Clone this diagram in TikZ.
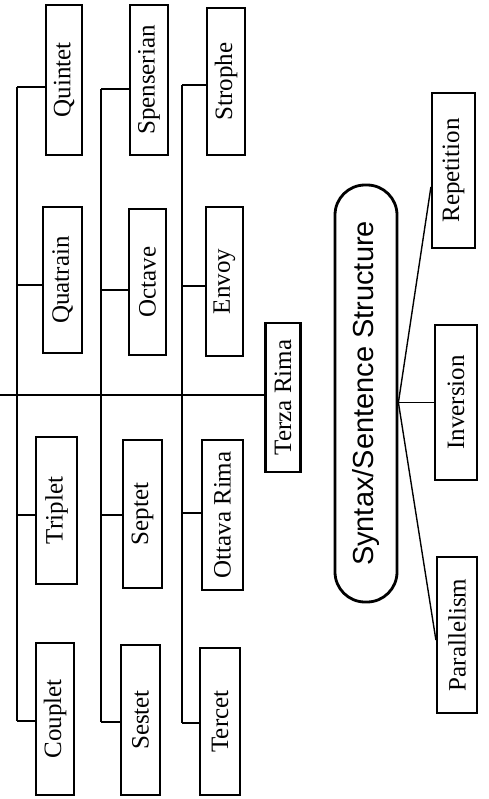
\documentclass[tikz,border=0pt]{standalone}
\usepackage{fontspec}
\setmainfont{Liberation Serif}
\newfontfamily\sansf{Liberation Sans}
\usetikzlibrary{calc}
\begin{document}
\begin{tikzpicture}[x=1pt,y=-1pt,
  bx/.style={draw, line width=2.2pt, rotate=90, inner sep=0pt,
    font=\fontsize{25}{25}\selectfont},
  ln/.style={line width=1.8pt},
  dg/.style={line width=1.4pt},
  stad/.style={draw, line width=2.8pt, rotate=90, inner sep=0pt,
    rounded corners=30pt, font=\sansf\fontsize{29}{29}\selectfont}]
\useasboundingbox (0,0) rectangle (488,799);
% top row boxes
\node[bx, minimum width=150pt, minimum height=36pt] (quintet) at (64,80) {Quintet};
\node[bx, minimum width=146pt, minimum height=39pt] (quatrain) at (62.5,280) {Quatrain};
\node[bx, minimum width=150pt, minimum height=38pt] (spenserian) at (149,80) {Spenserian};
\node[bx, minimum width=146pt, minimum height=37pt] (octave) at (147.5,282) {Octave};
\node[bx, minimum width=147pt, minimum height=38pt] (strophe) at (226,81.5) {Strophe};
\node[bx, minimum width=149pt, minimum height=37pt] (envoy) at (224.5,281.5) {Envoy};
% bottom row boxes
\node[bx, minimum width=147pt, minimum height=41pt] (triplet) at (56.5,510.5) {Triplet};
\node[bx, minimum width=152pt, minimum height=38pt] (couplet) at (55,719) {Couplet};
\node[bx, minimum width=148pt, minimum height=39pt] (septet) at (142.5,514) {Septet};
\node[bx, minimum width=150pt, minimum height=39pt] (sestet) at (140.5,720) {Sestet};
\node[bx, minimum width=150pt, minimum height=41pt] (ottava) at (222.5,515) {Ottava Rima};
\node[bx, minimum width=147pt, minimum height=40pt] (tercet) at (220,721.5) {Tercet};
% terza rima
\node[bx, minimum width=149pt, minimum height=35pt] (terza) at (283,397.5) {Terza Rima};
% syntax group
\node[stad, minimum width=417pt, minimum height=62pt] (syn) at (366,393.5) {Syntax/Sentence Structure};
\node[bx, minimum width=155pt, minimum height=43pt] (repetition) at (453.5,170.5) {Repetition};
\node[bx, minimum width=155pt, minimum height=42pt] (inversion) at (456,402.5) {Inversion};
\node[bx, minimum width=156pt, minimum height=40pt] (parallelism) at (457,635) {Parallelism};
% main line
\coordinate (m0) at (0,395);
\draw[ln] (m0) -- (m0 -| terza.north);
% column 1
\coordinate (a1) at (17,87);
\coordinate (a2) at (17,285);
\coordinate (a3) at (17,515);
\coordinate (a4) at (17,721);
\draw[ln] (a1) -- (a4);
\draw[ln] (a1) -- (a1 -| quintet.north);
\draw[ln] (a2) -- (a2 -| quatrain.north);
\draw[ln] (a3) -- (a3 -| triplet.north);
\draw[ln] (a4) -- (a4 -| couplet.north);
% column 2
\coordinate (b1) at (101,89);
\coordinate (b2) at (101,290);
\coordinate (b3) at (101,515);
\coordinate (b4) at (101,722);
\draw[ln] (b1) -- (b4);
\draw[ln] (b1) -- (b1 -| spenserian.north);
\draw[ln] (b2) -- (b2 -| octave.north);
\draw[ln] (b3) -- (b3 -| septet.north);
\draw[ln] (b4) -- (b4 -| sestet.north);
% column 3
\coordinate (c1) at (182,85);
\coordinate (c2) at (182,286);
\coordinate (c3) at (182,513);
\coordinate (c4) at (182,723);
\draw[ln] (c1) -- (c4);
\draw[ln] (c1) -- (c1 -| strophe.north);
\draw[ln] (c2) -- (c2 -| envoy.north);
\draw[ln] (c3) -- (c3 -| ottava.north);
\draw[ln] (c4) -- (c4 -| tercet.north);
% syntax connectors
\coordinate (sj) at (inversion.north -| syn.south);
\draw[ln] (sj) -- (inversion.north);
\draw[dg] (sj) -- ($(repetition.north)+(0,16.5)$);
\draw[dg] (sj) -- ($(parallelism.north)+(0,5)$);
\end{tikzpicture}
\end{document}
